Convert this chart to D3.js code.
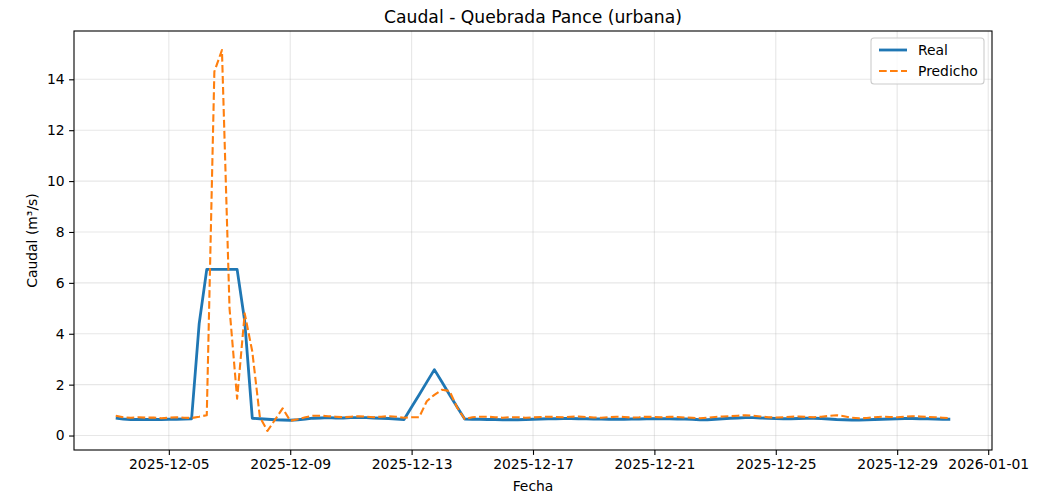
<!DOCTYPE html>
<html>
<head>
<meta charset="utf-8">
<script src="https://cdn.jsdelivr.net/npm/d3@7"></script>
<style>
  body { margin: 0; background: #fff; }
  svg { font-family: "DejaVu Sans", sans-serif; }
</style>
</head>
<body>
<svg id="chart" width="1052" height="504"></svg>
<script>
// observations every 6 hours, from 2025-12-03 06:00
const startTime = new Date(2025, 11, 3, 6);
const stepHours = 6;

const realValues = [
  0.68,0.65,0.63,0.63,0.63,0.63,0.63,0.64,0.64,0.65,0.66,
  4.40,6.53,6.53,6.53,6.53,6.53,4.50,0.68,
  0.66,0.64,0.62,0.61,0.60,0.62,0.65,0.68,0.69,0.70,0.69,0.69,0.70,0.70,0.70,0.69,0.68,0.67,0.65,
  0.63,1.12,1.60,2.10,2.59,2.10,1.60,1.12,0.65,
  0.64,0.64,0.63,0.63,0.62,0.62,0.62,0.63,0.64,0.65,
  0.66,0.66,0.67,0.67,0.66,0.66,0.65,0.65,0.64,0.64,
  0.64,0.65,0.65,0.66,0.66,0.66,0.66,0.65,0.65,0.64,
  0.62,0.62,0.64,0.66,0.68,0.69,0.70,0.70,0.69,0.68,
  0.67,0.66,0.66,0.67,0.68,0.68,0.67,0.65,0.63,0.62,
  0.61,0.61,0.62,0.63,0.64,0.65,0.66,0.67,0.67,0.66,
  0.66,0.65,0.64,0.64
];

const predValues = [
  0.78,0.72,0.70,0.72,0.70,0.71,0.68,0.70,0.72,0.70,0.69,0.74,0.80,
  14.30,15.15,5.00,1.45,4.80,3.30,0.72,0.18,0.62,1.07,0.58,0.64,0.72,0.78,0.78,
  0.76,0.74,0.72,0.74,0.76,0.74,0.72,0.74,0.76,0.74,
  0.70,0.72,0.72,1.35,1.60,1.80,1.75,1.10,0.65,
  0.72,0.74,0.74,0.72,0.70,0.72,0.72,0.70,0.71,0.73,
  0.74,0.73,0.72,0.74,0.75,0.73,0.71,0.70,0.72,0.74,
  0.73,0.71,0.72,0.74,0.73,0.72,0.74,0.73,0.71,0.70,
  0.68,0.70,0.73,0.75,0.76,0.78,0.80,0.78,0.75,0.72,
  0.71,0.72,0.74,0.75,0.73,0.72,0.74,0.77,0.80,0.76,
  0.70,0.68,0.69,0.72,0.74,0.73,0.72,0.74,0.76,0.75,
  0.73,0.72,0.70,0.68
];

const xTickDates = ["2025-12-05","2025-12-09","2025-12-13","2025-12-17",
                    "2025-12-21","2025-12-25","2025-12-29","2026-01-01"];
const yTicks = [0, 2, 4, 6, 8, 10, 12, 14];

const seriesNames = ["Real", "Predicho"];
const seriesColors = ["#1f77b4", "#ff7f0e"];

let chart = d3.select("#chart");
let chart_width = 1052, chart_height = 504;
let margin = {left: 74, right: 60, top: 31, bottom: 54};
let plotW = chart_width - margin.left - margin.right;
let plotH = chart_height - margin.top - margin.bottom;

let times = realValues.map((v, i) => d3.timeHour.offset(startTime, i * stepHours));
let real = realValues.map((v, i) => ({t: times[i], v: v}));
let pred = predValues.map((v, i) => ({t: times[i], v: v}));

// matplotlib-like 5% margins
let tExt = d3.extent(times);
let tPad = (tExt[1] - tExt[0]) * 0.05;
let allV = realValues.concat(predValues);
let vExt = d3.extent(allV);
let vPad = (vExt[1] - vExt[0]) * 0.05;

let xScale = d3.scaleTime()
  .domain([new Date(+tExt[0] - tPad), new Date(+tExt[1] + tPad)])
  .range([margin.left, margin.left + plotW]);
let yScale = d3.scaleLinear()
  .domain([vExt[0] - vPad, vExt[1] + vPad])
  .range([margin.top + plotH, margin.top]);

let parseDay = d3.timeParse("%Y-%m-%d");
let xTicks = xTickDates.map(parseDay);

// grid
let grid = chart.append("g");
grid.selectAll("line.gx").data(xTicks).enter().append("line")
  .attr("x1", d => xScale(d)).attr("x2", d => xScale(d))
  .attr("y1", margin.top).attr("y2", margin.top + plotH)
  .attr("stroke", "#b0b0b0").attr("stroke-opacity", 0.3).attr("stroke-width", 1.1);
grid.selectAll("line.gy").data(yTicks).enter().append("line")
  .attr("x1", margin.left).attr("x2", margin.left + plotW)
  .attr("y1", d => yScale(d)).attr("y2", d => yScale(d))
  .attr("stroke", "#b0b0b0").attr("stroke-opacity", 0.3).attr("stroke-width", 1.1);

chart.append("clipPath").attr("id", "clip").append("rect")
  .attr("x", margin.left).attr("y", margin.top).attr("width", plotW).attr("height", plotH);

let line = d3.line().x(d => xScale(d.t)).y(d => yScale(d.v));

chart.append("path").datum(real)
  .attr("clip-path", "url(#clip)")
  .attr("d", line).attr("fill", "none")
  .attr("stroke", seriesColors[0]).attr("stroke-width", 2.8)
  .attr("stroke-linejoin", "round").attr("stroke-linecap", "butt");

chart.append("path").datum(pred)
  .attr("clip-path", "url(#clip)")
  .attr("d", line).attr("fill", "none")
  .attr("stroke", seriesColors[1]).attr("stroke-width", 2.1)
  .attr("stroke-dasharray", "7.7,3.3")
  .attr("stroke-linejoin", "round");

// axes
let xAxis = chart.append("g")
  .attr("transform", "translate(0," + (margin.top + plotH) + ")")
  .call(d3.axisBottom(xScale).tickValues(xTicks).tickFormat(d3.timeFormat("%Y-%m-%d"))
        .tickSize(4.9).tickPadding(4.5).tickSizeOuter(0));
let yAxis = chart.append("g")
  .attr("transform", "translate(" + margin.left + ",0)")
  .call(d3.axisLeft(yScale).tickValues(yTicks).tickFormat(d3.format("d"))
        .tickSize(4.9).tickPadding(4.5).tickSizeOuter(0));

[xAxis, yAxis].forEach(ax => {
  ax.select(".domain").remove();
  ax.selectAll(".tick line").attr("stroke", "#000").attr("stroke-width", 1.1);
  ax.selectAll(".tick text").attr("fill", "#000")
    .style("font-size", "13.9px").style("font-family", "DejaVu Sans");
});

// frame
chart.append("rect")
  .attr("x", margin.left).attr("y", margin.top)
  .attr("width", plotW).attr("height", plotH)
  .attr("fill", "none").attr("stroke", "#000").attr("stroke-width", 1.1);

// labels
chart.append("text")
  .text("Caudal - Quebrada Pance (urbana)")
  .attr("x", margin.left + plotW / 2).attr("y", 23)
  .style("text-anchor", "middle").style("font-size", "17.2px");

chart.append("text")
  .text("Fecha")
  .attr("x", margin.left + plotW / 2).attr("y", 491)
  .style("text-anchor", "middle").style("font-size", "13.9px");

chart.append("text")
  .attr("transform", "translate(37," + (margin.top + plotH / 2) + ") rotate(-90)")
  .text("Caudal (m³/s)")
  .style("text-anchor", "middle").style("font-size", "13.9px");

// legend
let legend = chart.append("g");
legend.append("rect")
  .attr("x", 871).attr("y", 38).attr("width", 113).attr("height", 46)
  .attr("rx", 3).attr("fill", "#fff").attr("fill-opacity", 0.8)
  .attr("stroke", "#cccccc").attr("stroke-width", 1.1);
seriesNames.forEach((name, i) => {
  let ly = 50 + i * 21;
  legend.append("line")
    .attr("x1", 879).attr("x2", 907).attr("y1", ly).attr("y2", ly)
    .attr("stroke", seriesColors[i])
    .attr("stroke-width", i === 0 ? 2.8 : 2.1)
    .attr("stroke-dasharray", i === 0 ? null : "7.7,3.3");
  legend.append("text")
    .text(name)
    .attr("x", 918).attr("y", ly + 5)
    .style("font-size", "13.9px");
});
</script>
</body>
</html>
